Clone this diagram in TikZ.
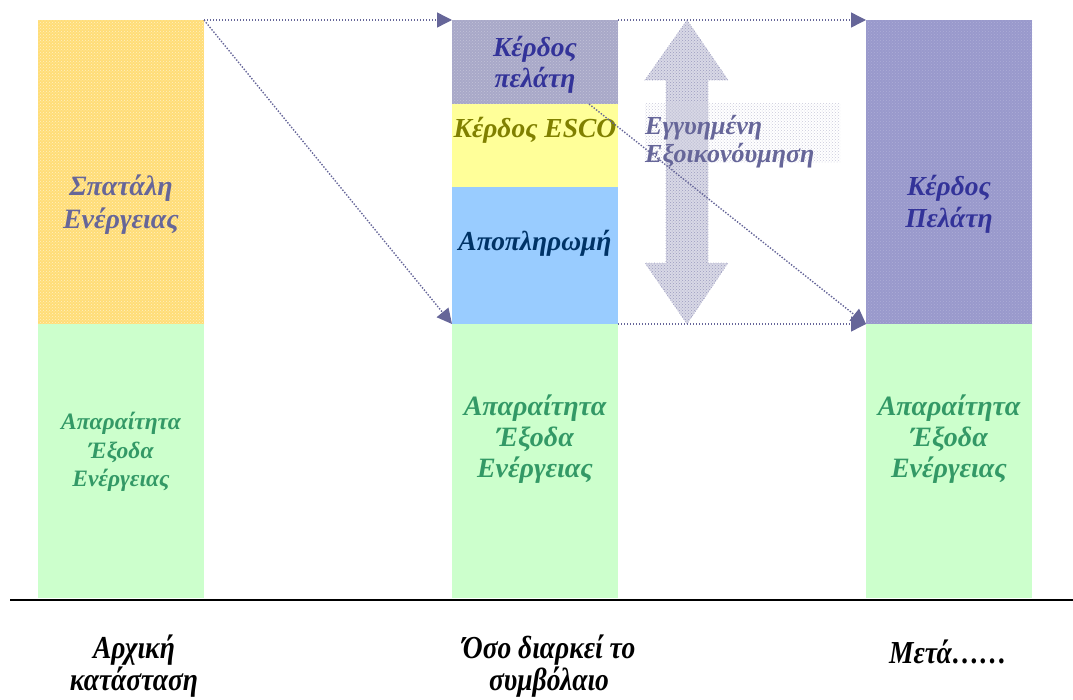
\documentclass[tikz,border=0pt]{standalone}
\usepackage{fontspec}
\setmainfont{Liberation Serif}
\newfontfamily\capfont{Liberation Serif}[FakeStretch=0.86]
\usetikzlibrary{arrows.meta,patterns}

\definecolor{wasteYellow}{HTML}{FFDD77}
\definecolor{clientGrey}{HTML}{A8A8C8}
\definecolor{escoYellow}{HTML}{FFFF99}
\definecolor{payBlue}{HTML}{99CCFF}
\definecolor{needGreen}{HTML}{CCFFCC}
\definecolor{clientPurple}{HTML}{9999CC}
\definecolor{slateText}{HTML}{666699}
\definecolor{deepBlue}{HTML}{333399}
\definecolor{olive}{HTML}{808000}
\definecolor{navy}{HTML}{003366}
\definecolor{seaGreen}{HTML}{339966}
\definecolor{arrowFill}{HTML}{D8D8E6}
\definecolor{arrowDots}{HTML}{9C9CBE}

\begin{document}
\begin{tikzpicture}[x=1pt,y=-1pt,
  bar/.style={draw=none, inner sep=0pt, outer sep=0pt, anchor=north west,
    minimum width=166pt},
  lbl/.style={align=center, inner sep=0pt,
    font=\bfseries\itshape\fontsize{28}{33}\selectfont},
  midlbl/.style={align=center, inner sep=0pt,
    font=\bfseries\itshape\fontsize{27.5}{31}\selectfont},
  smalllbl/.style={align=center, inner sep=0pt,
    font=\bfseries\itshape\fontsize{23.5}{28.5}\selectfont},
  greenlbl/.style={align=center, inner sep=0pt, text=seaGreen,
    font=\bfseries\itshape\fontsize{28}{31}\selectfont},
  phase/.style={align=center, inner sep=0pt, anchor=base,
    font=\capfont\bfseries\itshape\fontsize{32}{29.5}\selectfont},
  flow/.style={draw=slateText, line width=1.4pt, dash pattern=on 1.4pt off 1.6pt,
    -{Triangle[length=15pt,width=15pt,fill=slateText]}},
]
\useasboundingbox (0,0) rectangle (1073,699);

% --- initial state ---
\node[bar, minimum height=304pt, preaction={fill=wasteYellow},
  pattern=crosshatch dots, pattern color=white!55!wasteYellow] (waste) at (38,20) {};
\node[bar, minimum height=274pt, fill=needGreen] (needA) at (38,324) {};

% --- during the contract ---
\node[bar, minimum height=84pt, preaction={fill=clientGrey},
  pattern=crosshatch dots, pattern color=clientGrey!70!white] (clientA) at (452,20) {};
\node[bar, minimum height=83pt, fill=escoYellow] (esco) at (452,104) {};
\node[bar, minimum height=137pt, fill=payBlue] (pay) at (452,187) {};
\node[bar, minimum height=274pt, fill=needGreen] (needB) at (452,324) {};

% --- afterwards ---
\node[bar, minimum height=304pt, preaction={fill=clientPurple},
  pattern=crosshatch dots, pattern color=clientPurple!80!white] (clientB) at (866,20) {};
\node[bar, minimum height=274pt, fill=needGreen] (needC) at (866,324) {};

% ground line
\coordinate (gl) at (10,600);
\coordinate (gr) at (1073,600);
\draw[line width=2pt, black] (gl) -- (gr);

% guaranteed savings double arrow
\path[preaction={fill=arrowFill}, pattern=crosshatch dots, pattern color=arrowDots,
  draw=arrowDots, dotted, line width=0.6pt]
  (687,20) -- (728,80) -- (708,80) -- (708,263) -- (728,263) -- (687,324)
  -- (645,263) -- (666,263) -- (666,80) -- (645,80) -- cycle;

% guaranteed savings label
\node[inner sep=0pt, outer sep=0pt, anchor=north west, minimum width=195pt,
  minimum height=59pt, pattern=crosshatch dots, pattern color=arrowDots!55!white]
  (saveBox) at (645,103) {};
\node[anchor=west, align=left, inner sep=0pt, text=slateText,
  font=\bfseries\itshape\fontsize{26}{28}\selectfont] (saveT) at (645,142)
  {Εγγυημένη\\Εξοικονόυμηση};

% labels in the bars
\node[lbl, text=slateText] (wasteT) at (121,205) {Σπατάλη\\Ενέργειας};
\node[smalllbl, text=seaGreen] (needAT) at (121,452) {Απαραίτητα\\Έξοδα\\Ενέργειας};
\node[midlbl, text=deepBlue] (clientAT) at (535,65) {Κέρδος\\πελάτη};
\node[midlbl, text=olive] (escoT) at (535,130) {Κέρδος ESCO};
\node[midlbl, text=navy] (payT) at (535,243) {Αποπληρωμή};
\node[greenlbl] (needBT) at (535,439) {Απαραίτητα\\Έξοδα\\Ενέργειας};
\node[midlbl, text=deepBlue, font=\bfseries\itshape\fontsize{27.5}{32}\selectfont]
  (clientBT) at (949,204) {Κέρδος\\Πελάτη};
\node[greenlbl] (needCT) at (949,439) {Απαραίτητα\\Έξοδα\\Ενέργειας};

% phase captions (base anchor sits on the last line)
\node[phase] (p1) at (134,690) {Αρχική\\κατάσταση};
\node[phase] (p2) at (549,690) {Όσο διαρκεί το\\συμβόλαιο};
\node[phase] (p3) at (948,663) {Μετά……};

% value flows
\coordinate (dstart) at (589,104);
\draw[flow] (waste.north east) -- (clientA.north west);
\draw[flow] (waste.north east) -- (pay.south west);
\draw[flow] (clientA.north east) -- (clientB.north west);
\draw[flow] (pay.south east) -- (clientB.south west);
\draw[flow] (dstart) -- (clientB.south west);
\end{tikzpicture}
\end{document}
